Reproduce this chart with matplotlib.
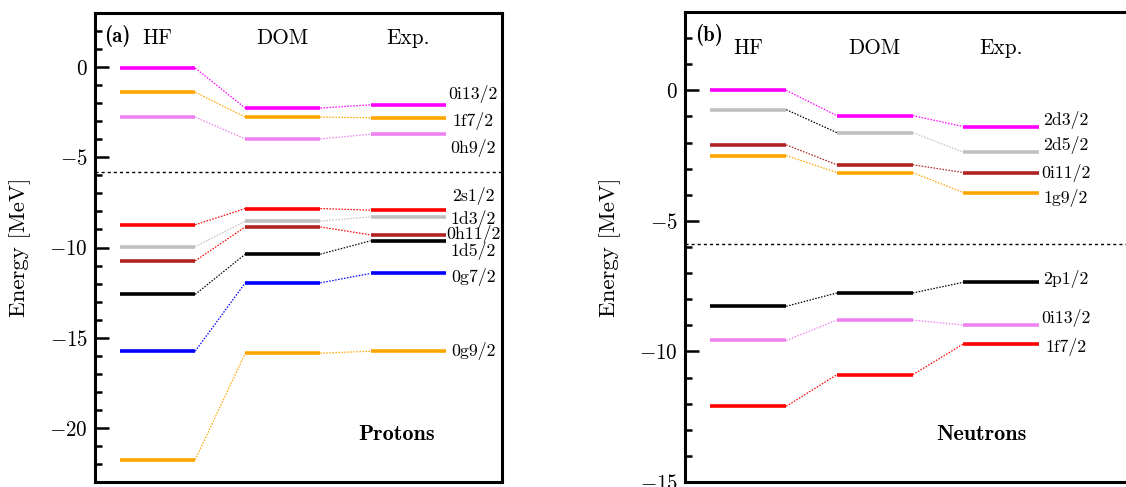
import matplotlib
matplotlib.use("Agg")
import matplotlib.pyplot as plt

plt.rcParams["font.family"] = ["cmr10", "DejaVu Serif"]
plt.rcParams["mathtext.fontset"] = "cm"
plt.rcParams["axes.formatter.use_mathtext"] = True

methods = ["HF", "DOM", "Exp."]

# Proton single-particle levels (MeV): HF, DOM, Exp.
p_states = ["0i13/2", "1f7/2", "0h9/2", "2s1/2", "1d3/2", "0h11/2", "1d5/2", "0g7/2", "0g9/2"]
p_hf = [-0.05, -1.39, -2.77, -8.74, -9.95, -10.74, -12.60, -15.75, -21.77]
p_dom = [-2.27, -2.77, -3.98, -7.84, -8.54, -8.86, -10.37, -11.96, -15.86]
p_exp = [-2.09, -2.81, -3.72, -7.93, -8.30, -9.30, -9.63, -11.44, -15.75]
p_colors = ["magenta", "orange", "violet", "red", "silver", "firebrick", "black", "blue", "orange"]
p_link_colors = ["magenta", "orange", "violet", "red", "silver", "red", "black", "blue", "orange"]
p_label_y = [-1.48, -2.96, -4.49, -7.12, -8.41, -9.24, -10.17, -11.64, -15.73]
p_fermi = -5.83

# Neutron single-particle levels (MeV): HF, DOM, Exp.
n_states = ["2d3/2", "2d5/2", "0i11/2", "1g9/2", "2p1/2", "0i13/2", "1f7/2"]
n_hf = [0.0, -0.74, -2.09, -2.50, -8.27, -9.58, -12.10]
n_dom = [-0.97, -1.62, -2.85, -3.15, -7.76, -8.80, -10.89]
n_exp = [-1.39, -2.37, -3.15, -3.92, -7.35, -8.99, -9.71]
n_colors = ["magenta", "silver", "firebrick", "orange", "black", "violet", "red"]
n_link_colors = [["magenta", "magenta"], ["black", "silver"], ["firebrick", "firebrick"],
                 ["orange", "orange"], ["black", "black"], ["violet", "violet"], ["red", "red"]]
n_label_y = [-1.12, -2.10, -3.16, -4.14, -7.24, -8.73, -9.82]
n_fermi = -5.87

W, H = 1126, 487
fig = plt.figure(figsize=(W / 100, H / 100), dpi=100)
ax1 = fig.add_axes([95 / W, 5 / H, 407 / W, 469 / H])
ax2 = fig.add_axes([685 / W, 5 / H, 443 / W, 470 / H])

half = 0.3
xs = [1, 2, 3]


def draw_panel(ax, states, hf, dom, exp, colors, links, label_y, fermi,
               ylim, xlim, tag, title, title_x, label_x, ylabel_x):
    for i, name in enumerate(states):
        vals = [hf[i], dom[i], exp[i]]
        for x, v in zip(xs, vals):
            ax.plot([x - half, x + half], [v, v], color=colors[i], lw=2.6,
                    solid_capstyle="butt", zorder=3)
        lc = links[i] if isinstance(links[i], list) else [links[i], links[i]]
        for k in range(2):
            ax.plot([xs[k] + half, xs[k + 1] - half], [vals[k], vals[k + 1]],
                    color=lc[k], lw=0.9, ls=(0, (1.2, 1.2)), zorder=2)
        ax.text(label_x, label_y[i], name, ha="center", va="center", fontsize=12.8)
    ax.axhline(fermi, color="black", lw=1.0, ls=(0, (2.2, 2.2)), zorder=1)
    for x, m in zip(xs, methods):
        ax.text(x, 1.6, m, ha="center", va="center", fontsize=15.3)
    ax.text(0.022, 0.951, tag, transform=ax.transAxes, ha="left", va="center",
            fontsize=15, family="cmb10")
    ax.text(title_x, 0.102, title, transform=ax.transAxes, ha="center", va="center",
            fontsize=16, family="cmb10")
    ax.set_xlim(*xlim)
    ax.set_ylim(*ylim)
    ax.set_xticks([])
    ax.set_yticks([t for t in range(-25, 5, 5) if ylim[0] <= t <= ylim[1]])
    ax.set_yticks(range(int(ylim[0]), int(ylim[1]) + 1), minor=True)
    ax.tick_params(axis="y", which="major", direction="in", length=10, width=1.8,
                   labelsize=15.2, pad=5)
    ax.tick_params(axis="y", which="minor", direction="in", length=5, width=1.8)
    for s in ax.spines.values():
        s.set_linewidth(2.2)
    ax.set_ylabel("Energy [MeV]", fontsize=16.5)
    ax.yaxis.set_label_coords(ylabel_x, 0.5)


draw_panel(ax1, p_states, p_hf, p_dom, p_exp, p_colors, p_link_colors, p_label_y,
           p_fermi, (-23, 3), (0.5, 3.75), "(a)", "Protons", 0.742, 3.52, -0.157)
draw_panel(ax2, n_states, n_hf, n_dom, n_exp, n_colors, n_link_colors, n_label_y,
           n_fermi, (-15, 3), (0.5, 4.0), "(b)", "Neutrons", 0.67, 3.51, -0.144)

fig.savefig("out.png", dpi=100)
